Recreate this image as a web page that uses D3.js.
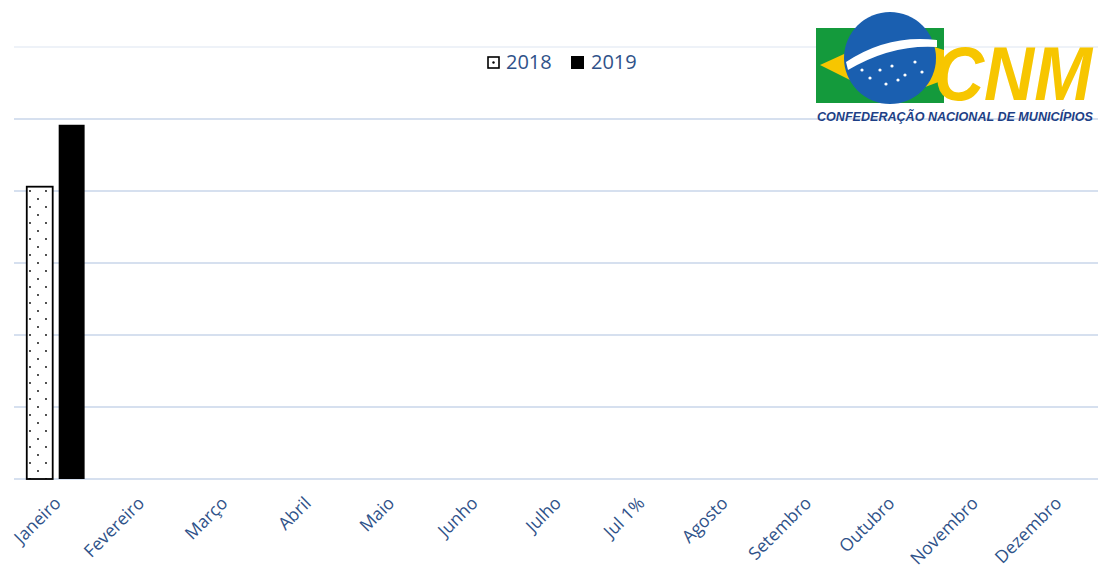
<!DOCTYPE html>
<html>
<head>
<meta charset="utf-8">
<title>CNM chart</title>
<script src="https://d3js.org/d3.v7.min.js"></script>
<style>
  body { margin: 0; background: #ffffff; }
  svg { display: block; }
</style>
</head>
<body>
<svg id="chart" width="1098" height="569"></svg>
<script>
  // data
  var months = ["Janeiro", "Fevereiro", "Março", "Abril", "Maio", "Junho", "Julho",
                "Jul 1%", "Agosto", "Setembro", "Outubro", "Novembro", "Dezembro"];
  var seriesNames = ["2018", "2019"];
  var values2018 = [4.06, null, null, null, null, null, null, null, null, null, null, null, null];
  var values2019 = [4.92, null, null, null, null, null, null, null, null, null, null, null, null];
  var gridTicks = [0, 1, 2, 3, 4, 5, 6];

  var svg = d3.select("#chart");
  var textColor = "#2f5289";

  var defs = svg.append("defs");
  var pat = defs.append("pattern")
      .attr("id", "dots")
      .attr("patternUnits", "userSpaceOnUse")
      .attr("width", 16).attr("height", 16)
      .attr("x", 27).attr("y", 187);
  pat.append("rect").attr("width", 16).attr("height", 16).attr("fill", "#fff");
  pat.append("circle").attr("cx", 3).attr("cy", 4).attr("r", 0.9).attr("fill", "#000");
  pat.append("circle").attr("cx", 11).attr("cy", 12).attr("r", 0.9).attr("fill", "#000");
  pat.append("circle").attr("cx", 19).attr("cy", 4).attr("r", 0.9).attr("fill", "#000");

  var x = d3.scaleBand().domain(months).range([14, 1098]).paddingInner(0).paddingOuter(0);
  var xs = d3.scaleBand().domain(seriesNames).range([0, x.bandwidth()]).paddingInner(0.1875).paddingOuter(0.4);
  var y = d3.scaleLinear().domain([0, 6]).range([479, 47]);

  // grid
  svg.append("g").selectAll("line").data(gridTicks).enter().append("line")
    .attr("x1", 14).attr("x2", 1098)
    .attr("y1", function(d) { return y(d); })
    .attr("y2", function(d) { return y(d); })
    .attr("stroke", function(d) { return d === 6 ? "#eef2f8" : "#d6e0ef"; })
    .attr("stroke-width", 2);

  // bars
  var rows = months.map(function(m, i) { return { m: m, a: values2018[i], b: values2019[i] }; });
  var g = svg.append("g");
  g.selectAll("rect.s2018").data(rows.filter(function(d) { return d.a != null; })).enter().append("rect")
    .attr("class", "s2018")
    .attr("x", function(d) { return x(d.m) + xs("2018"); })
    .attr("y", function(d) { return y(d.a); })
    .attr("width", xs.bandwidth())
    .attr("height", function(d) { return y(0) - y(d.a); })
    .attr("fill", "url(#dots)")
    .attr("stroke", "#000").attr("stroke-width", 1.8);
  g.selectAll("rect.s2019").data(rows.filter(function(d) { return d.b != null; })).enter().append("rect")
    .attr("class", "s2019")
    .attr("x", function(d) { return x(d.m) + xs("2019"); })
    .attr("y", function(d) { return y(d.b); })
    .attr("width", xs.bandwidth())
    .attr("height", function(d) { return y(0) - y(d.b); })
    .attr("fill", "#000");

  // month labels
  svg.append("g").selectAll("text").data(months).enter().append("text")
    .attr("transform", function(d) {
      return "translate(" + (x(d) + x.bandwidth() / 2 - 3) + ",495) rotate(-45)";
    })
    .attr("text-anchor", "end")
    .attr("dy", "0.75em")
    .attr("fill", textColor)
    .style("font-family", "'Open Sans', sans-serif")
    .style("font-size", "17.5px")
    .text(function(d) { return d; });

  // legend
  var leg = svg.append("g");
  leg.append("rect").attr("x", 488).attr("y", 57).attr("width", 11).attr("height", 11)
    .attr("fill", "#fff").attr("stroke", "#000").attr("stroke-width", 1.6);
  leg.append("circle").attr("cx", 493.5).attr("cy", 62.5).attr("r", 1.2).attr("fill", "#000");
  leg.append("text").attr("x", 506).attr("y", 69).text("2018")
    .attr("fill", textColor).style("font-family", "'Open Sans', sans-serif").style("font-size", "20px");
  leg.append("rect").attr("x", 571).attr("y", 56).attr("width", 13).attr("height", 13).attr("fill", "#000");
  leg.append("text").attr("x", 591).attr("y", 69).text("2019")
    .attr("fill", textColor).style("font-family", "'Open Sans', sans-serif").style("font-size", "20px");

  // logo
  var logo = svg.append("g");
  logo.append("rect").attr("x", 816).attr("y", 28).attr("width", 128).attr("height", 75).attr("fill", "#149a3c");
  logo.append("path").attr("d", "M820,65 L890,33 L944,50 L944,80 L890,100 Z").attr("fill", "#f7c600");
  logo.append("circle").attr("cx", 890).attr("cy", 58).attr("r", 46).attr("fill", "#1a5fb0");
  logo.append("path").attr("d", "M846,62 Q888,34 937,40 L937,47 Q892,44 848,70 Z").attr("fill", "#fff");
  [[880, 70], [892, 66], [905, 75], [870, 78], [915, 62], [898, 80], [922, 72], [862, 70], [886, 84]].forEach(function(p) {
    logo.append("circle").attr("cx", p[0]).attr("cy", p[1]).attr("r", 1.6).attr("fill", "#fff");
  });
  logo.append("text").attr("transform", "translate(934,100) scale(1,1.15)").text("CNM")
    .attr("fill", "#f7c600")
    .style("font-family", "'Liberation Sans', Arial, sans-serif")
    .style("font-weight", "bold").style("font-style", "italic")
    .style("font-size", "66px")
    .attr("textLength", 158).attr("lengthAdjust", "spacingAndGlyphs");
  logo.append("text").attr("x", 817).attr("y", 121).text("CONFEDERAÇÃO NACIONAL DE MUNICÍPIOS")
    .attr("fill", "#1d3f86")
    .style("font-family", "'Liberation Sans', Arial, sans-serif")
    .style("font-weight", "bold").style("font-style", "italic")
    .style("font-size", "12px")
    .attr("textLength", 276).attr("lengthAdjust", "spacingAndGlyphs");
</script>
</body>
</html>
